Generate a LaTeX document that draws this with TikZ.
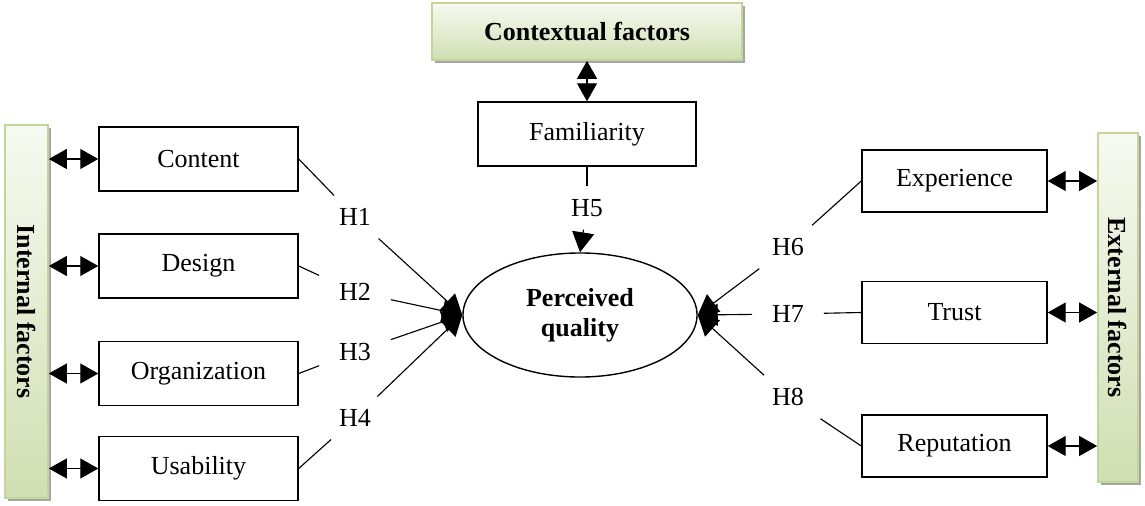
\documentclass[tikz,border=0pt]{standalone}
\usepackage{fontspec}
\setmainfont{Liberation Serif}
\usetikzlibrary{arrows.meta,shapes.geometric,shadows}
\definecolor{oliveline}{RGB}{194,214,155}
\definecolor{olivedark}{RGB}{208,223,178}
\definecolor{olivelight}{RGB}{247,250,241}
\begin{document}
\begin{tikzpicture}[x=0.025cm,y=-0.025cm,font=\fontsize{18.5}{21.5}\selectfont,
    >={Triangle[length=0.5cm,width=0.55cm]},
    factor/.style={draw=oliveline,line width=1.2pt,top color=olivelight,bottom color=olivedark,inner sep=0pt,
        drop shadow={shadow xshift=0.08cm,shadow yshift=-0.08cm,fill=black!35,opacity=1},
        font=\fontsize{18.5}{21.5}\selectfont\bfseries},
    var/.style={draw,line width=1pt,inner sep=0pt},
    hyp/.style={inner xsep=14pt,inner ysep=9pt},
    link/.style={line width=0.8pt},
    both/.style={line width=0.8pt,{Triangle[length=0.45cm,width=0.5cm]}-{Triangle[length=0.45cm,width=0.5cm]}}]
    \useasboundingbox (0,0) rectangle (1145,506);
    \node[factor,minimum width=7.75cm,minimum height=1.425cm] (ctx) at (587,31.5) {Contextual factors};
    \node[factor,rotate=-90,minimum width=9.325cm,minimum height=1.075cm] (int) at (26.5,311.5) {Internal factors};
    \node[factor,rotate=-90,minimum width=8.725cm,minimum height=1cm] (ext) at (1118,307.5) {External factors};
    \node[var,minimum width=5.45cm,minimum height=1.6cm] (fam) at (587,134) {Familiarity};
    \node[draw,ellipse,line width=1pt,inner sep=0pt,minimum width=5.85cm,minimum height=3.1cm,align=center,font=\fontsize{18.5}{21.5}\selectfont\bfseries] (pq) at (580,315) {Perceived\\quality};
    \node[var,minimum width=4.975cm,minimum height=1.6cm] (con) at (198.5,159) {Content};
    \node[var,minimum width=4.975cm,minimum height=1.6cm] (des) at (198.5,266) {Design};
    \node[var,minimum width=4.975cm,minimum height=1.6cm] (org) at (198.5,373.5) {Organization};
    \node[var,minimum width=4.975cm,minimum height=1.6cm] (usa) at (198.5,468.5) {Usability};
    \node[var,minimum width=4.625cm,minimum height=1.55cm] (exp) at (954.5,181) {Experience};
    \node[var,minimum width=4.625cm,minimum height=1.55cm] (tru) at (954.5,312.5) {Trust};
    \node[var,minimum width=4.625cm,minimum height=1.55cm] (rep) at (954.5,446) {Reputation};
    \node[hyp] (h1) at (355,217) {H1};
    \node[hyp] (h2) at (355,292) {H2};
    \node[hyp] (h3) at (355,352) {H3};
    \node[hyp] (h4) at (355,418) {H4};
    \node[hyp] (h5) at (587,208) {H5};
    \node[hyp] (h6) at (788,247) {H6};
    \node[hyp] (h7) at (788,314) {H7};
    \node[hyp] (h8) at (788,397) {H8};
    \draw[both] (ctx) -- (fam);
    \draw[link] (fam) -- (h5);
    \draw[link,->] (h5) -- (pq.north);
    \foreach \v/\h in {con/h1,des/h2,org/h3,usa/h4}{
        \draw[both] (\v.west) -- (int.north |- \v.west);
        \draw[link] (\v.east) -- (\h);
        \draw[link,->] (\h) -- (pq.west);
    }
    \foreach \v/\h in {exp/h6,tru/h7,rep/h8}{
        \draw[both] (\v.east) -- (ext.south |- \v.east);
        \draw[link] (\v.west) -- (\h);
        \draw[link,->] (\h) -- (pq.east);
    }
\end{tikzpicture}
\end{document}
